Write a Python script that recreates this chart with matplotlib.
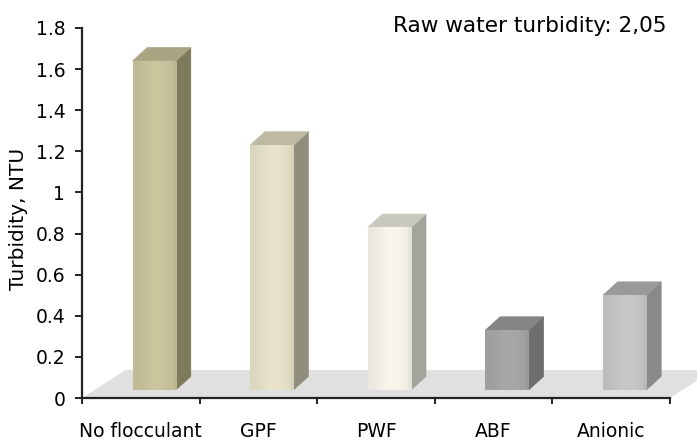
"""Turbidity after flocculation - 3D-style bar chart."""
import matplotlib.pyplot as plt
import numpy as np
from matplotlib.patches import Polygon
from matplotlib.colors import to_rgb

# === DATA ===
categories = ['No flocculant', 'GPF', 'PWF', 'ABF', 'Anionic']
turbidity = [1.60, 1.19, 0.79, 0.29, 0.46]
y_ticks = [0, 0.2, 0.4, 0.6, 0.8, 1.0, 1.2, 1.4, 1.6, 1.8]
y_tick_labels = ['0', '0.2', '0.4', '0.6', '0.8', '1', '1.2', '1.4', '1.6', '1.8']
note = 'Raw water turbidity: 2,05'

# front / top / side colours per bar
front_colors = ['#c6c09a', '#e2ddc5', '#f1efe6', '#a3a3a3', '#c2c2c2']
top_colors = ['#aaa482', '#bdb9a2', '#c9c8bf', '#858585', '#9a9a9a']
side_colors = ['#7e7a5c', '#908e7c', '#a5a49b', '#6e6e6e', '#898989']

# 3D look parameters (data units)
bar_x0, bar_x1 = 0.43, 0.80   # front face inside each category
depth_dx, depth_dy = 0.125, 0.065
base = 0.04                    # bars stand slightly behind the front edge of the floor
floor_dx, floor_dy = 0.37, 0.136

fig = plt.figure(figsize=(6.97, 4.40), dpi=100)
ax = fig.add_axes([82 / 697, 42 / 440, 588 / 697, 370 / 440])

# floor
floor = Polygon([(0, 0), (5, 0), (5 + floor_dx, floor_dy), (floor_dx, floor_dy)],
                closed=True, facecolor='#e0e0e0', edgecolor='none', clip_on=False, zorder=1)
ax.add_patch(floor)


def shade(color, n=40):
    # horizontal gradient across the front face, lighter towards the right
    c = np.array(to_rgb(color))
    t = np.linspace(0, 1, n)
    f = 0.97 + 0.06 * np.sin(np.pi * t * 0.9) ** 2
    f[-3:] = 0.95
    return np.clip(c[None, :] * f[:, None], 0, 1)[None, :, :]


for i, val in enumerate(turbidity):
    x0, x1 = i + bar_x0, i + bar_x1
    y0, y1 = base, base + val
    # side face
    ax.add_patch(Polygon([(x1, y0), (x1 + depth_dx, y0 + depth_dy),
                          (x1 + depth_dx, y1 + depth_dy), (x1, y1)],
                         closed=True, facecolor=side_colors[i], edgecolor=side_colors[i],
                         linewidth=0.5, joinstyle='round', zorder=3))
    # top face
    ax.add_patch(Polygon([(x0, y1), (x1, y1), (x1 + depth_dx, y1 + depth_dy),
                          (x0 + depth_dx, y1 + depth_dy)],
                         closed=True, facecolor=top_colors[i], edgecolor=top_colors[i],
                         linewidth=0.5, joinstyle='round', zorder=3))
    # front face
    ax.imshow(shade(front_colors[i]), extent=(x0, x1, y0, y1), aspect='auto',
              interpolation='bilinear', zorder=4)

ax.set_xlim(0, 5)
ax.set_ylim(0, 1.8)

ax.spines['top'].set_visible(False)
ax.spines['right'].set_visible(False)
for s in ('left', 'bottom'):
    ax.spines[s].set_color('#222222')
    ax.spines[s].set_linewidth(1.6)
    ax.spines[s].set_zorder(6)

ax.set_yticks(y_ticks)
ax.set_yticklabels(y_tick_labels)
ax.tick_params(axis='y', direction='out', length=5, width=1.4, color='#222222',
               labelsize=13.5, pad=7)

ax.set_xticks(range(6))
ax.set_xticklabels([])
ax.tick_params(axis='x', which='major', direction='out', length=4, width=1.4, color='#222222')
ax.set_xticks(np.arange(len(categories)) + 0.5, minor=True)
ax.set_xticklabels(categories, minor=True)
ax.tick_params(axis='x', which='minor', length=0, labelsize=13.5, pad=17)

fig.text(19 / 697, 1 - 219 / 440, 'Turbidity, NTU', rotation=90, ha='center', va='center',
         fontsize=14.5)
fig.text(393 / 697, 1 - 32 / 440, note, ha='left', va='baseline', fontsize=15.6)

fig.savefig('out.png', dpi=100)
